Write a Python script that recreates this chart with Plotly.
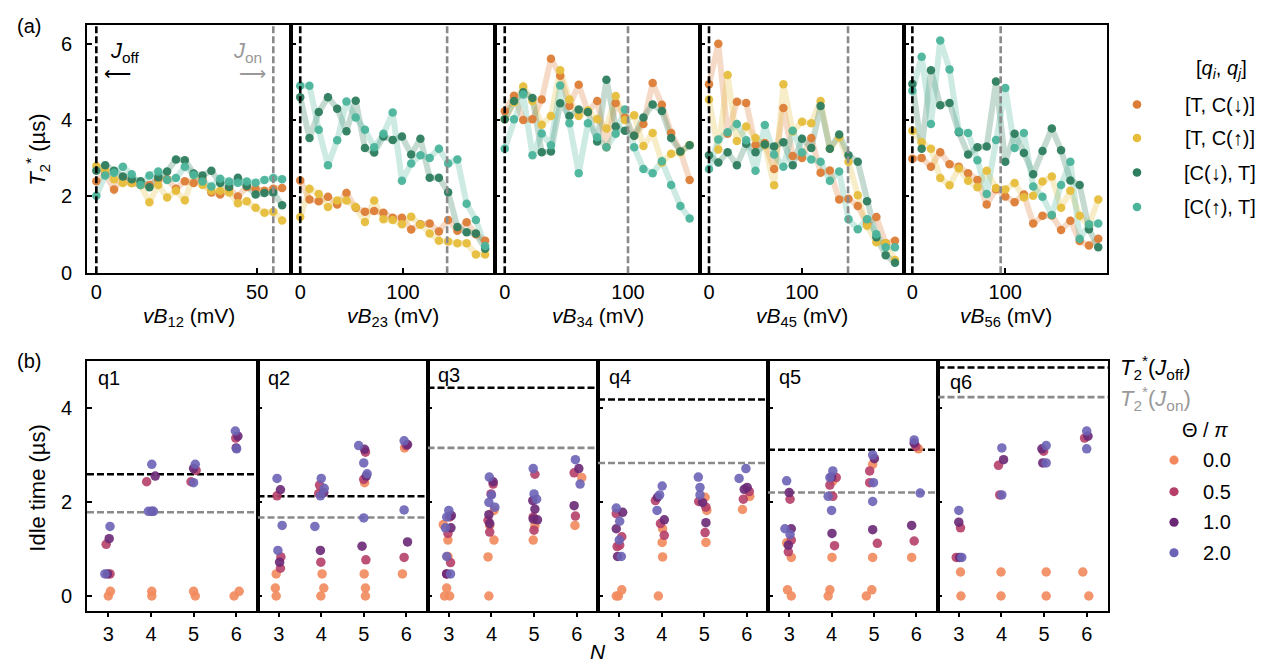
import plotly.graph_objects as go

W, H = 1271, 669

# ---------------- Data: panel (a) ----------------
x12 = [0, 2.75, 5.5, 8.25, 11, 13.75, 16.5, 19.25, 22, 24.75, 27.5, 30.25, 33, 35.75, 38.5, 41.25, 44, 46.75, 49.5, 52.25, 55, 57.75]
tcd_12 = [2.4, 2.6, 2.18, 2.5, 2.35, 2.3, 2.3, 2.45, 2.45, 2.2, 2.4, 2.35, 2.45, 2.1, 2.05, 2.2, 2.0, 2.25, 2.2, 2.15, 2.2, 2.22]
tcu_12 = [2.8, 2.7, 2.45, 2.35, 2.35, 2.3, 1.85, 2.3, 1.97, 2.15, 1.9, 2.58, 2.3, 2.15, 2.15, 2.1, 1.82, 1.87, 1.7, 1.57, 1.6, 1.37]
cdt_12 = [2.67, 2.82, 2.67, 2.52, 2.45, 2.4, 2.24, 2.5, 2.65, 2.97, 2.95, 2.6, 2.55, 2.67, 2.35, 2.25, 2.49, 2.28, 2.05, 2.09, 2.1, 1.77]
cut_12 = [2.02, 2.55, 2.62, 2.78, 2.58, 2.3, 2.55, 2.65, 2.43, 2.48, 2.78, 2.56, 2.39, 2.26, 2.46, 2.39, 2.36, 2.39, 2.36, 2.43, 2.48, 2.45]

x23 = [0, 9, 18, 27, 36, 45, 54, 63, 72, 81, 90, 99, 108, 117, 126, 135, 144, 153, 162, 171, 180]
tcd_23 = [2.42, 1.92, 1.87, 1.99, 1.79, 2.09, 1.7, 1.6, 1.62, 1.57, 1.44, 1.44, 1.13, 1.27, 1.29, 1.08, 1.38, 1.1, 1.32, 1.01, 0.84]
tcu_23 = [1.46, 2.2, 2.06, 1.72, 1.89, 1.89, 1.72, 1.33, 1.89, 1.4, 1.38, 1.27, 1.47, 1.26, 1.03, 0.84, 0.82, 0.77, 0.77, 0.48, 0.48]
cdt_23 = [4.6, 3.53, 4.21, 4.6, 4.3, 3.71, 4.51, 3.27, 3.15, 3.57, 3.48, 3.57, 3.1, 3.51, 2.49, 2.49, 2.11, 1.2, 1.06, 1.03, 0.63]
cut_23 = [4.9, 4.9, 3.75, 2.82, 3.47, 4.49, 4.07, 3.75, 3.29, 3.64, 4.2, 2.41, 2.86, 3.08, 3.01, 3.25, 2.86, 2.97, 1.81, 1.38, 0.7]

x34 = [0, 7.5, 15, 22.5, 30, 37.5, 45, 52.5, 60, 67.5, 75, 82.5, 90, 97.5, 105, 112.5, 120, 127.5, 135, 142.5, 150]
tcd_34 = [4.23, 4.64, 4.0, 4.02, 4.54, 5.61, 5.16, 4.37, 4.93, 4.21, 4.5, 3.29, 4.45, 4.07, 3.59, 3.9, 4.97, 4.4, 3.66, 3.18, 2.43]
tcu_34 = [4.02, 4.47, 4.88, 4.5, 3.88, 4.11, 5.31, 4.54, 4.11, 4.25, 4.02, 3.78, 4.63, 4.0, 4.13, 3.32, 3.66, 2.89, 3.12, 3.16, 3.35]
cdt_34 = [4.02, 4.5, 4.73, 4.58, 3.16, 3.18, 4.44, 4.11, 4.28, 4.21, 3.44, 5.06, 3.83, 3.72, 3.59, 4.07, 4.41, 4.24, 3.53, 3.18, 3.34]
cut_34 = [3.25, 4.02, 4.67, 3.08, 3.65, 3.34, 4.91, 3.92, 2.61, 3.92, 3.55, 3.29, 3.64, 4.28, 3.29, 2.72, 2.61, 2.92, 2.3, 1.75, 1.42]

x45 = [0, 10, 20, 30, 40, 50, 60, 70, 80, 90, 100, 110, 120, 130, 140, 150, 160, 170, 180, 190, 200]
tcd_45 = [4.94, 6.0, 3.64, 4.48, 4.45, 3.35, 3.4, 2.72, 4.32, 3.06, 3.01, 3.53, 2.62, 2.68, 1.92, 1.94, 1.75, 1.27, 1.46, 0.77, 0.84]
tcu_45 = [4.54, 3.23, 5.18, 3.45, 3.83, 3.53, 3.34, 2.29, 4.94, 3.7, 3.96, 3.92, 4.5, 3.25, 3.55, 2.91, 2.03, 1.23, 0.8, 0.77, 0.33]
cdt_45 = [3.08, 2.89, 3.16, 2.82, 3.38, 3.16, 3.36, 3.31, 3.42, 2.82, 3.51, 3.27, 4.37, 3.25, 3.62, 3.08, 2.91, 1.87, 0.93, 0.46, 0.26]
cut_45 = [2.72, 3.49, 3.68, 3.9, 3.47, 2.67, 3.87, 3.1, 2.78, 3.72, 3.15, 2.97, 2.91, 2.41, 2.65, 1.4, 1.14, 1.4, 1.01, 0.67, 0.67]

x56 = [0, 10, 20, 30, 40, 50, 60, 70, 80, 90, 100, 110, 120, 130, 140, 150, 160, 170, 180, 190, 200]
tcd_56 = [2.99, 3.01, 2.78, 3.16, 2.84, 2.78, 2.61, 2.43, 1.79, 2.19, 2.0, 1.85, 2.05, 1.29, 1.49, 1.5, 1.12, 1.36, 0.83, 0.71, 0.89]
tcu_56 = [3.72, 3.42, 3.25, 2.48, 2.29, 2.73, 2.41, 2.24, 2.67, 2.22, 2.18, 2.35, 1.98, 2.02, 2.39, 2.52, 1.7, 2.15, 1.49, 1.25, 1.92]
cdt_56 = [4.95, 3.25, 5.31, 4.39, 4.45, 3.68, 3.1, 3.29, 3.31, 5.01, 2.91, 3.64, 3.14, 2.58, 3.19, 3.78, 3.21, 2.42, 2.3, 1.14, 0.67]
cut_56 = [4.77, 5.66, 3.9, 6.09, 5.33, 3.7, 3.66, 2.95, 2.06, 3.48, 4.84, 3.27, 3.66, 2.26, 1.99, 1.51, 2.3, 2.91, 0.89, 1.27, 1.29]

pair_labels = ["[T, C(↓)]", "[T, C(↑)]", "[C(↓), T]", "[C(↑), T]"]
top_xlabels = ["12", "23", "34", "45", "56"]
jon_positions = [55, 143, 100, 149.5, 95]

# ---------------- Data: panel (b) ----------------
theta_labels = ["0.0", "0.5", "1.0", "2.0"]
T2_off = [2.59, 2.12, 4.43, 4.18, 3.11, 4.86]
T2_on = [1.78, 1.67, 3.15, 2.83, 2.20, 4.23]

q1_th00 = [(3.0, 0), (3.05, 0.1), (4.02, 0.1), (4.02, 0), (5.0, 0.1), (5.04, 0), (5.95, 0), (6.07, 0.1)]
q1_th05 = [(2.95, 1.1), (3.04, 0.47), (3.9, 2.43), (4.94, 2.43), (5.06, 2.67), (5.99, 3.36)]
q1_th10 = [(3.02, 1.22), (2.98, 0.47), (4.1, 2.55), (4.02, 1.8), (5.0, 2.71), (6.04, 3.4), (6.0, 3.15)]
q1_th20 = [(3.04, 1.48), (2.92, 0.47), (4.02, 2.8), (3.94, 1.8), (4.06, 1.8), (5.04, 2.8), (5.0, 2.41), (5.98, 3.51), (6.01, 3.13)]

q2_th00 = [(2.94, 0), (2.92, 0.17), (2.94, 0.47), (3.99, 0), (4.06, 0.17), (4.02, 0.47), (5.04, 0), (5.04, 0.17), (5.01, 0.47), (5.91, 0.47), (5.96, 3.15), (5.02, 2.41)]
q2_th05 = [(2.96, 2.13), (3.05, 0.83), (3.04, 0.59), (3.96, 2.36), (3.94, 2.18), (3.99, 0.72), (5.05, 0.77), (5.04, 3.06), (5.0, 2.48), (5.95, 0.82), (6.0, 3.2)]
q2_th10 = [(3.04, 2.26), (3.02, 0.72), (3.98, 0.97), (4.06, 2.2), (4.96, 1.06), (5.02, 3.12), (5.06, 2.55), (6.03, 1.15), (6.03, 3.22)]
q2_th20 = [(2.96, 2.5), (3.08, 1.5), (2.98, 0.97), (3.85, 1.48), (4.0, 2.5), (4.07, 2.29), (3.98, 2.13), (4.88, 3.2), (5.0, 2.83), (5.08, 2.6), (5.0, 1.66), (5.95, 1.83), (5.95, 3.3)]

q3_th00 = [(2.9, 0), (3.02, 0), (2.95, 0.17), (2.87, 1.52), (2.98, 1.19), (2.98, 0.84), (3.94, 0), (3.92, 0.83), (4.06, 1.19), (3.96, 1.5), (4.06, 1.82), (4.98, 1.19), (5.02, 1.5), (5.96, 1.5), (6.12, 2.52)]
q3_th05 = [(2.98, 1.33), (3.02, 1.68), (3.04, 0.71), (2.95, 0.47), (3.92, 1.61), (3.99, 2.17), (4.04, 2.38), (3.96, 1.36), (4.98, 1.68), (5.0, 1.4), (5.02, 2.59), (5.94, 2.62), (5.97, 1.7)]
q3_th10 = [(3.06, 1.71), (3.05, 1.45), (2.95, 0.47), (3.96, 1.54), (3.94, 1.73), (4.04, 2.43), (4.98, 1.64), (5.08, 1.62), (4.97, 2.03), (5.02, 1.85), (6.05, 2.71), (5.94, 1.92)]
q3_th20 = [(3.0, 1.82), (2.95, 1.68), (2.92, 1.45), (2.95, 0.84), (3.04, 0.47), (3.95, 2.53), (4.0, 2.15), (3.94, 1.99), (4.08, 1.89), (4.98, 2.71), (5.0, 2.17), (5.06, 2.06), (5.97, 2.9), (6.08, 2.38)]

q4_th00 = [(2.93, 0), (3.06, 0.13), (2.98, 0), (3.92, 0), (4.02, 0.83), (4.01, 1.14), (4.02, 1.43), (5.04, 1.14), (5.06, 1.82), (5.9, 1.84), (6.07, 2.12), (5.02, 2.1)]
q4_th05 = [(2.93, 1.75), (2.95, 1.05), (3.06, 1.26), (3.01, 1.08), (3.97, 1.54), (4.06, 1.29), (3.85, 2.03), (5.02, 1.35), (4.87, 2.01), (5.04, 1.89), (5.92, 2.06), (6.06, 2.22)]
q4_th10 = [(3.08, 1.78), (2.93, 1.43), (2.96, 0.84), (4.06, 1.62), (3.9, 2.1), (5.04, 1.56), (4.96, 1.99), (6.01, 2.31), (5.94, 2.27)]
q4_th20 = [(2.93, 1.87), (3.01, 1.59), (3.0, 1.19), (3.05, 0.84), (4.01, 2.34), (3.89, 1.82), (3.95, 2.15), (4.86, 2.53), (4.9, 2.31), (4.9, 2.15), (5.82, 2.5), (5.98, 2.71)]

q5_th00 = [(2.96, 0.13), (3.05, 0), (3.05, 0.82), (2.94, 1.13), (3.96, 0.13), (3.92, 0), (4.01, 0.82), (4.03, 2.45), (4.82, 0), (4.95, 0.13), (4.97, 0.82), (4.97, 2.8), (5.89, 0.82), (6.05, 3.13)]
q5_th05 = [(3.02, 2.06), (2.98, 0.94), (3.05, 1.19), (3.96, 2.36), (4.11, 2.52), (4.03, 2.12), (4.07, 1.07), (4.9, 2.66), (5.08, 1.12), (4.9, 2.41), (5.95, 1.17), (5.99, 3.18)]
q5_th10 = [(3.0, 2.2), (3.05, 1.43), (2.98, 1.08), (4.01, 1.33), (4.0, 2.53), (4.97, 1.41), (5.01, 2.92), (5.89, 1.5), (5.95, 3.25)]
q5_th20 = [(2.94, 2.45), (2.9, 1.43), (3.02, 1.31), (3.92, 2.12), (4.0, 1.82), (4.03, 2.66), (3.96, 2.52), (4.97, 3.0), (4.99, 2.41), (4.97, 2.01), (5.95, 3.32), (6.09, 2.19)]

q6_th00 = [(3.05, 0), (3.04, 0.51), (3.99, 0), (3.99, 0.51), (5.05, 0), (5.05, 0.51), (6.05, 0), (5.91, 0.51)]
q6_th05 = [(3.04, 1.45), (2.94, 0.82), (3.93, 2.78), (3.96, 2.15), (4.99, 3.08), (5.95, 3.36)]
q6_th10 = [(3.0, 1.57), (3.02, 0.82), (4.05, 2.9), (4.95, 3.13), (4.97, 2.83), (6.03, 3.4)]
q6_th20 = [(3.0, 1.82), (3.07, 0.82), (4.01, 3.15), (4.01, 2.15), (5.05, 3.2), (5.05, 2.83), (6.0, 3.51), (6.0, 3.13)]

# ---------------- Styling ----------------
FONT = "Liberation Sans, Arial, Helvetica, sans-serif"
top_colors = ["#dc7d37", "#e6be3c", "#2d7d5f", "#4bb49b"]
top_rgba = ["rgba(220,125,55,0.28)", "rgba(230,190,60,0.28)", "rgba(45,125,95,0.28)", "rgba(75,180,155,0.28)"]
bot_colors = ["#f2895c", "#b53f68", "#6a2875", "#6b63b5"]

top_dom_px = [(79, 283), (283, 487), (487, 692), (692, 896), (896, 1099)]
top_ranges = [(-2.9, 60.5), (-9, 189.6), (-7.9, 158.4), (-9.7, 209.7), (-9, 209.4)]
top_ytop, top_ybot = 17, 269.3
bot_dom_px = [(79, 249.5), (249.5, 419.5), (419.5, 590), (590, 760), (760, 929.5), (929.5, 1100)]
bot_ytop, bot_ybot = 358.3, 611.7


def px(x):
    return x / W


def py(y):
    return 1 - y / H


fig = go.Figure()
layout = dict(width=W, height=H, margin=dict(l=0, r=0, t=0, b=0),
              paper_bgcolor="white", plot_bgcolor="white", showlegend=False,
              font=dict(family=FONT, size=20, color="black"))
shapes = []
annotations = []

AXLINE = dict(showline=True, linecolor="black", linewidth=1.8, mirror=True,
              showgrid=False, zeroline=False, tickcolor="black", tickwidth=1.6)
OVER = dict(showticklabels=False, showline=False, showgrid=False, zeroline=False,
            tickcolor="black", tickwidth=1.6, ticklen=5)


def axname(kind, i):
    return kind + "axis" + ("" if i == 1 else str(i))


def ref(kind, i):
    return kind + ("" if i == 1 else str(i))


N_SUB = 11
top_series = [
    (x12, [tcd_12, tcu_12, cdt_12, cut_12]),
    (x23, [tcd_23, tcu_23, cdt_23, cut_23]),
    (x34, [tcd_34, tcu_34, cdt_34, cut_34]),
    (x45, [tcd_45, tcu_45, cdt_45, cut_45]),
    (x56, [tcd_56, tcu_56, cdt_56, cut_56]),
]
top_tickvals = [[0, 50], [0, 100], [0, 100], [0, 100], [0, 100]]

for k in range(5):
    i = k + 1
    d0, d1 = top_dom_px[k]
    layout[axname("x", i)] = dict(domain=[px(d0), px(d1)], range=list(top_ranges[k]), anchor=ref("y", i),
                                  tickvals=top_tickvals[k], ticks="inside", ticklen=5,
                                  tickfont=dict(size=20), ticklabelstandoff=0, **AXLINE)
    layout[axname("y", i)] = dict(domain=[py(top_ybot), py(top_ytop)], range=[-0.015, 6.5], anchor=ref("x", i),
                                  tickvals=[0, 2, 4, 6], ticks="inside", ticklen=5,
                                  showticklabels=(k == 0), tickfont=dict(size=20), ticklabelstandoff=9, **AXLINE)
    j = i + N_SUB
    layout[axname("x", j)] = dict(overlaying=ref("x", i), anchor=ref("y", i), range=list(top_ranges[k]),
                                  tickvals=top_tickvals[k], ticks="outside", **OVER)
    layout[axname("y", j)] = dict(overlaying=ref("y", i), anchor=ref("x", i), range=[-0.015, 6.5],
                                  tickvals=[0, 2, 4, 6], ticks="outside", **OVER)
    xs, ys_list = top_series[k]
    for s, ys in enumerate(ys_list):
        fig.add_trace(go.Scatter(x=xs, y=ys, mode="lines", line=dict(color=top_rgba[s], width=6),
                                 xaxis=ref("x", i), yaxis=ref("y", i), hoverinfo="skip"))
    for s, ys in enumerate(ys_list):
        fig.add_trace(go.Scatter(x=xs, y=ys, mode="markers",
                                 marker=dict(color=top_colors[s], size=8.5, opacity=0.95, line=dict(width=0)),
                                 xaxis=ref("x", i), yaxis=ref("y", i)))
    shapes.append(dict(type="line", xref=ref("x", i), yref=ref("y", i) + " domain", x0=0, x1=0, y0=0, y1=1,
                       line=dict(color="black", width=2.6, dash="7px,3px")))
    shapes.append(dict(type="line", xref=ref("x", i), yref=ref("y", i) + " domain",
                       x0=jon_positions[k], x1=jon_positions[k], y0=0, y1=1,
                       line=dict(color="#8a8a8a", width=2.6, dash="7px,3px")))
    annotations.append(dict(text="<i>vB</i><sub>%s</sub> (mV)" % top_xlabels[k], x=px((d0 + d1) / 2), y=py(314),
                            xref="paper", yref="paper", showarrow=False, font=dict(size=21),
                            xanchor="center", yanchor="middle"))

bot_data = [
    [q1_th00, q1_th05, q1_th10, q1_th20],
    [q2_th00, q2_th05, q2_th10, q2_th20],
    [q3_th00, q3_th05, q3_th10, q3_th20],
    [q4_th00, q4_th05, q4_th10, q4_th20],
    [q5_th00, q5_th05, q5_th10, q5_th20],
    [q6_th00, q6_th05, q6_th10, q6_th20],
]
q_label_pos = [(88, 376), (258, 376), (428, 373), (599, 375), (769, 375), (940, 380)]
for k in range(6):
    i = k + 6
    d0, d1 = bot_dom_px[k]
    layout[axname("x", i)] = dict(domain=[px(d0), px(d1)], range=[2.5, 6.5], anchor=ref("y", i),
                                  tickvals=[3, 4, 5, 6], ticks="outside", ticklen=5,
                                  tickfont=dict(size=20), **AXLINE)
    layout[axname("y", i)] = dict(domain=[py(bot_ybot), py(bot_ytop)], range=[-0.31, 5.0], anchor=ref("x", i),
                                  tickvals=[0, 2, 4], ticks="inside", ticklen=5,
                                  showticklabels=(k == 0), tickfont=dict(size=20), ticklabelstandoff=9, **AXLINE)
    j = i + N_SUB
    layout[axname("y", j)] = dict(overlaying=ref("y", i), anchor=ref("x", i), range=[-0.31, 5.0],
                                  tickvals=[0, 2, 4], ticks="outside", **OVER)
    fig.add_trace(go.Scatter(x=[2.5, 6.5], y=[T2_on[k]] * 2, mode="lines",
                             line=dict(color="#8a8a8a", width=2.6, dash="7px,3px"),
                             xaxis=ref("x", i), yaxis=ref("y", i), hoverinfo="skip"))
    fig.add_trace(go.Scatter(x=[2.5, 6.5], y=[T2_off[k]] * 2, mode="lines",
                             line=dict(color="black", width=2.6, dash="7px,3px"),
                             xaxis=ref("x", i), yaxis=ref("y", i), hoverinfo="skip"))
    for t, pts in enumerate(bot_data[k]):
        fig.add_trace(go.Scatter(x=[p[0] for p in pts], y=[p[1] for p in pts], mode="markers",
                                 marker=dict(color=bot_colors[t], size=9.5, opacity=0.9, line=dict(width=0)),
                                 xaxis=ref("x", i), yaxis=ref("y", i)))
    lx, ly = q_label_pos[k]
    annotations.append(dict(text="q%d" % (k + 1), x=px(lx), y=py(ly), xref="paper", yref="paper",
                            showarrow=False, font=dict(size=20), xanchor="left", yanchor="middle"))


def ann(text, x, y, size=20, color="black", xanchor="center", angle=0):
    annotations.append(dict(text=text, x=px(x), y=py(y), xref="paper", yref="paper", showarrow=False,
                            font=dict(size=size, color=color), xanchor=xanchor, yanchor="middle",
                            textangle=angle))


ann("(a)", 7, 18, size=20, xanchor="left")
ann("(b)", 7, 358, size=20, xanchor="left")
ann("<i>T</i><sub>2</sub><sup>*</sup> (µs)", 30, 144, size=22, angle=-90)
ann("Idle time (µs)", 30, 487, size=22, angle=-90)
ann("<i>N</i>", 589.5, 653, size=21)
ann("<i>J</i><sub>off</sub>", 100, 45, size=22, xanchor="left")
ann("<i>J</i><sub>on</sub>", 223, 45, size=22, color="#999999", xanchor="left")
ann("⟵", 109, 67, size=19)
ann("⟶", 245, 67, size=19, color="#999999")

# legend (a)
ann("[<i>q<sub>i</sub></i>, <i>q<sub>j</sub></i>]", 1213, 62, size=20)
leg_a_y = [98, 132, 167, 202]
for s in range(4):
    ann(pair_labels[s], 1212, leg_a_y[s], size=20)
    r = 4.3
    shapes.append(dict(type="circle", xref="paper", yref="paper", x0=px(1129 - r), x1=px(1129 + r),
                       y0=py(leg_a_y[s] + r), y1=py(leg_a_y[s] - r),
                       fillcolor=top_colors[s], line=dict(width=0)))

# legend (b)
ann("<i>T</i><sub>2</sub><sup>*</sup>(<i>J</i><sub>off</sub>)", 1110, 365, size=22, xanchor="left")
ann("<i>T</i><sub>2</sub><sup>*</sup>(<i>J</i><sub>on</sub>)", 1110, 396, size=22, color="#999999", xanchor="left")
ann("Θ / <i>π</i>", 1197, 428, size=20)
leg_b_y = [459, 491, 522, 553]
for t in range(4):
    ann(theta_labels[t], 1193, leg_b_y[t], size=20, xanchor="left")
    r = 4.6
    shapes.append(dict(type="circle", xref="paper", yref="paper", x0=px(1166 - r), x1=px(1166 + r),
                       y0=py(leg_b_y[t] + r), y1=py(leg_b_y[t] - r),
                       fillcolor=bot_colors[t], line=dict(width=0)))

layout["shapes"] = shapes
layout["annotations"] = annotations
fig.update_layout(**layout)
fig.write_html("out.html")
